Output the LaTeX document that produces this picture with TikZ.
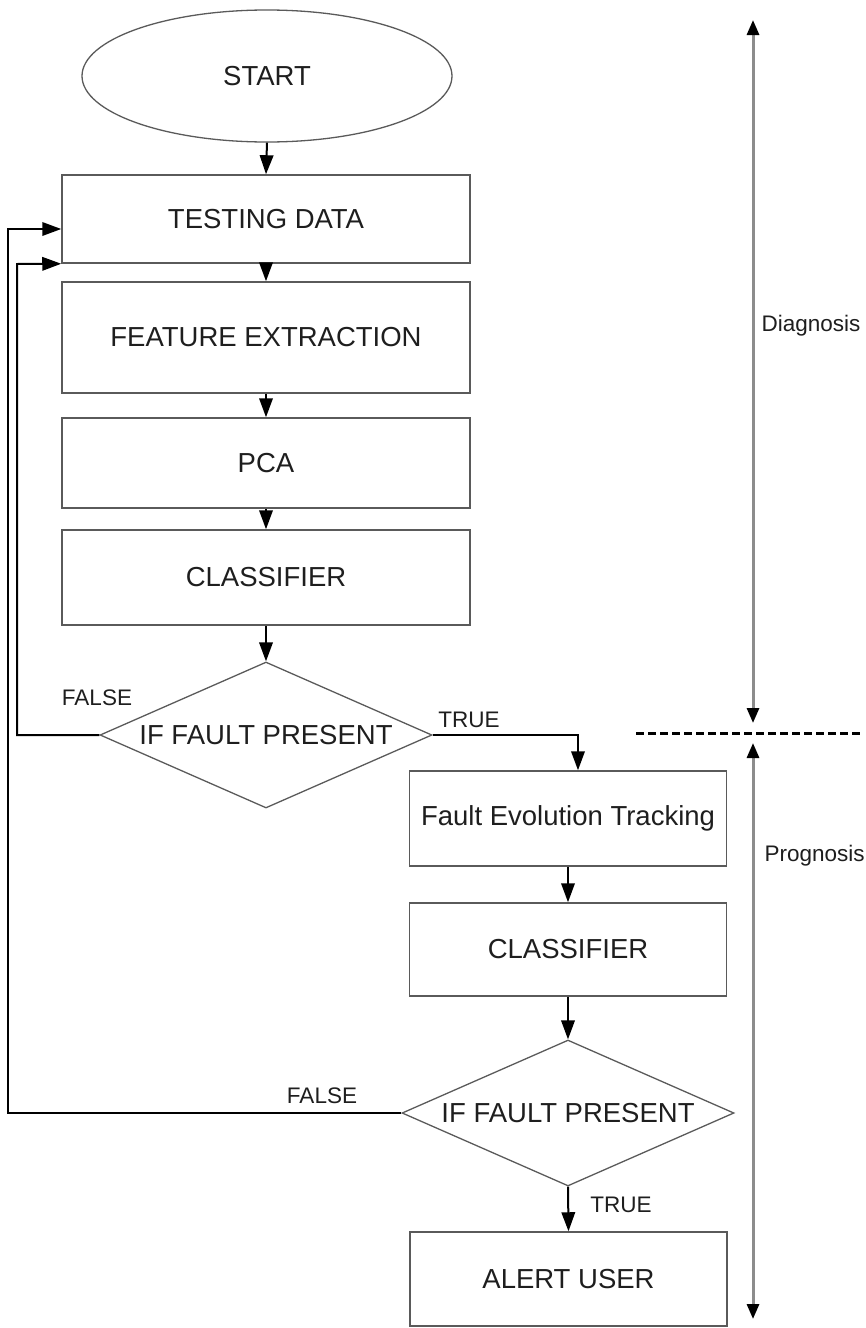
\documentclass[tikz,border=0pt]{standalone}
\usepackage{fontspec}
\setmainfont{Liberation Sans}
\usetikzlibrary{shapes.geometric,arrows.meta,calc}
\definecolor{boxline}{HTML}{5A5A5A}
\definecolor{axisline}{HTML}{8C8C8C}
\definecolor{ink}{HTML}{1E1E1E}
\tikzset{
  box/.style={draw=boxline,line width=1.5pt,rectangle,inner sep=0pt,
    text=ink,font=\fontsize{27.5}{30}\selectfont},
  decision/.style={draw=boxline,line width=1.3pt,diamond,inner sep=0pt,
    minimum width=332pt,minimum height=146pt},
  dtext/.style={text=ink,font=\fontsize{27.5}{30}\selectfont},
  flow/.style={draw=black,line width=2pt,-{Triangle[length=19pt,width=13.5pt]}},
  lbl/.style={text=ink,font=\fontsize{22.5}{25}\selectfont},
  span/.style={draw=axisline,line width=3pt,
    {Triangle[length=15pt,width=12pt,color=black]}-{Triangle[length=15pt,width=12pt,color=black]}}
}
\begin{document}
\begin{tikzpicture}[x=1pt,y=-1pt]
\useasboundingbox (0,0) rectangle (865,1328);

% main diagnosis column
\node[draw=boxline,line width=1.3pt,ellipse,minimum width=370pt,minimum height=132pt,
  text=ink,font=\fontsize{27.5}{30}\selectfont] (start) at (267,76) {START};
\node[box,minimum width=408pt,minimum height=88pt] (td) at (266,219) {TESTING DATA};
\node[box,minimum width=408pt,minimum height=111pt] (fe) at (266,337.5) {FEATURE EXTRACTION};
\node[box,minimum width=408pt,minimum height=90pt] (pca) at (266,463) {PCA};
\node[box,minimum width=408pt,minimum height=95pt] (cls) at (266,577.5) {CLASSIFIER};
\node[decision] (d1) at (266,735) {};
\node[dtext] (d1t) at (d1.center) {IF FAULT PRESENT};

% prognosis column
\node[box,minimum width=317pt,minimum height=95pt] (fet) at (568,818.5) {Fault Evolution Tracking};
\node[box,minimum width=317pt,minimum height=93pt] (cls2) at (568,949.5) {CLASSIFIER};
\node[decision] (d2) at (568,1113) {};
\node[dtext] (d2t) at (d2.center) {IF FAULT PRESENT};
\node[box,minimum width=317pt,minimum height=94pt] (alert) at (568.5,1279) {ALERT USER};

% flow connectors
\draw[flow] (start.south) -- (td.north);
\draw[flow] (td.south) -- (fe.north);
\draw[flow] (fe.south) -- (pca.north);
\draw[flow] (pca.south) -- (cls.north);
\draw[flow] (cls.south) -- (d1.north);
\coordinate (fetin) at ($(fet.north)+(10,0)$);
\draw[flow] (d1.east) -| (fetin);
\draw[flow] (fet.south) -- (cls2.north);
\draw[flow] (cls2.south) -- (d2.north);
\draw[flow] (d2.south) -- (alert.north);

% feedback loops
\coordinate (loopa) at (td.south west);
\draw[flow] (d1.west) -- (17,735) -- (17,264) -- (loopa);
\coordinate (loopb) at ($(td.west)+(0,10)$);
\draw[flow] (d2.west) -- (8,1113) -- (8,229) -- (loopb);

% branch labels
\node[lbl] (f1) at (97,698) {FALSE};
\node[lbl] (t1) at (469,720) {TRUE};
\node[lbl] (f2) at (322,1096) {FALSE};
\node[lbl] (t2) at (621,1205) {TRUE};

% phase spans
\coordinate (a1) at (753,20);
\coordinate (a2) at (753,723);
\coordinate (a3) at (753,743);
\coordinate (a4) at (753,1319);
\draw[span] (a1) -- (a2);
\draw[span] (a3) -- (a4);
\coordinate (dl) at (636,733);
\coordinate (dr) at (862,733);
\draw[black,line width=3pt,dash pattern=on 8pt off 4pt] (dl) -- (dr);
\node[lbl,anchor=west] (diag) at (758,326) {Diagnosis};
\node[lbl,anchor=west] (prog) at (761,856) {Prognosis};
\end{tikzpicture}
\end{document}
